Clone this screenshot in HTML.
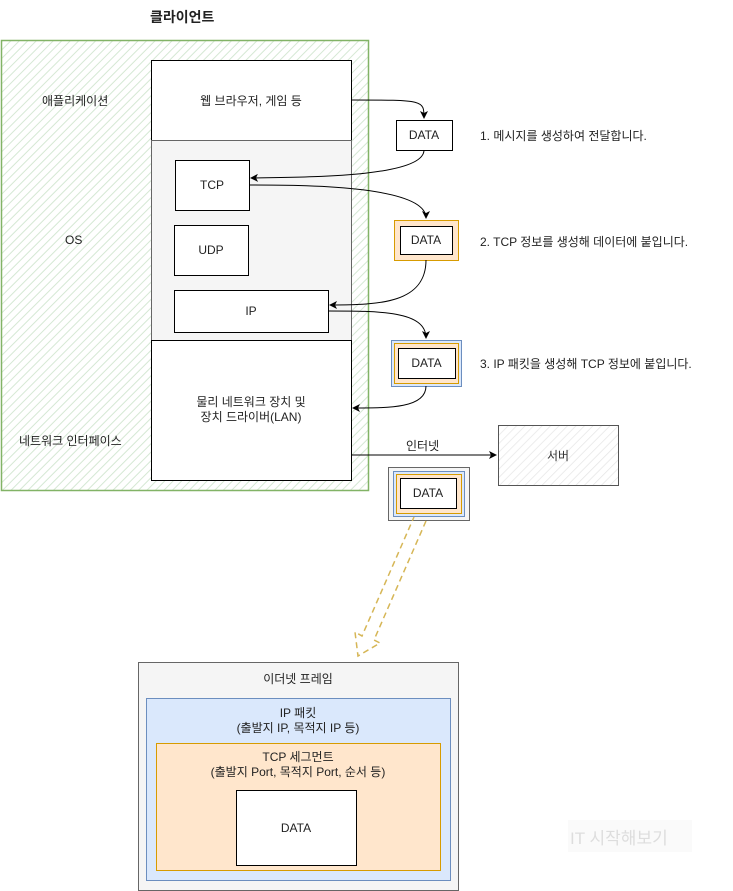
<!DOCTYPE html>
<html><head><meta charset="utf-8"><style>
body{margin:0;width:733px;height:891px;background:#fff;overflow:hidden;position:relative;font-family:"Liberation Sans","Noto Sans CJK KR",sans-serif;font-size:12px;color:#222}
.a{position:absolute;box-sizing:border-box;display:flex;align-items:center;justify-content:center;text-align:center}
.t{position:absolute;white-space:nowrap}
</style></head><body>
<svg width="733" height="891" style="position:absolute;left:0;top:0">
<defs>
<pattern id="h" width="6" height="6" patternUnits="userSpaceOnUse" patternTransform="rotate(45)"><rect width="6" height="6" fill="#fff"/><line x1="0" y1="0" x2="0" y2="6" stroke="#d5e8d4" stroke-width="2"/></pattern>
<pattern id="g" width="6" height="6" patternUnits="userSpaceOnUse" patternTransform="rotate(45)"><rect width="6" height="6" fill="#fff"/><line x1="0" y1="0" x2="0" y2="6" stroke="#e6e6e6" stroke-width="1.5"/></pattern>
<marker id="m" markerWidth="8" markerHeight="8" refX="7" refY="4" orient="auto" markerUnits="userSpaceOnUse"><path d="M0,0 L8,4 L0,8 L2,4z" fill="#000"/></marker>
</defs>
<rect x="1.5" y="40.5" width="367" height="450" fill="url(#h)" stroke="#82b366" stroke-width="1.5"/>
<rect x="151.5" y="60.5" width="200" height="80" fill="#fff" stroke="#000"/>
<rect x="151.5" y="140.5" width="200" height="200" fill="#f5f5f5" stroke="#666"/>
<rect x="151.5" y="340.5" width="200" height="140" fill="#fff" stroke="#000"/>
<rect x="175.5" y="160.5" width="74" height="50" fill="#fff" stroke="#000"/>
<rect x="174.5" y="225.5" width="74" height="50" fill="#fff" stroke="#000"/>
<rect x="174.5" y="290.5" width="154" height="42" fill="#fff" stroke="#000"/>
<rect x="396.5" y="120.5" width="56" height="30" fill="#fff" stroke="#000"/>
<rect x="394.5" y="220.5" width="64" height="40" fill="#ffe6cc" stroke="#d79b00"/>
<rect x="400.5" y="226.5" width="52" height="28" fill="#fff" stroke="#000"/>
<rect x="391.5" y="340.5" width="70" height="46" fill="#dae8fc" stroke="#6c8ebf"/>
<rect x="394.5" y="343.5" width="64" height="40" fill="#ffe6cc" stroke="#d79b00"/>
<rect x="398.5" y="348.5" width="57" height="30" fill="#fff" stroke="#000"/>
<rect x="388.5" y="467.5" width="81" height="53" fill="#f5f5f5" stroke="#666"/>
<rect x="393.5" y="471.5" width="71" height="45" fill="#dae8fc" stroke="#6c8ebf"/>
<rect x="396.5" y="474.5" width="65" height="39" fill="#ffe6cc" stroke="#d79b00"/>
<rect x="400.5" y="478.5" width="56" height="30" fill="#fff" stroke="#000"/>
<rect x="498.5" y="425.5" width="120" height="60" fill="url(#g)" stroke="#555"/>
<g fill="none" stroke="#000" stroke-width="1">
<path d="M351,100 C424,100 424,100 424,118" marker-end="url(#m)"/>
<path d="M424,150 C424,178 300,177 251,178" marker-end="url(#m)"/>
<path d="M249,185 C300,185 426,185 426,218" marker-end="url(#m)"/>
<path d="M426,260 C426,303 380,305 330,305" marker-end="url(#m)"/>
<path d="M328,311 C380,311 426,311 426,338" marker-end="url(#m)"/>
<path d="M426,386 C426,408 390,408 353,408" marker-end="url(#m)"/>
<path d="M351,455 L496,455" marker-end="url(#m)"/>
</g>
<g fill="none" stroke="#d6b656" stroke-width="1.5" stroke-dasharray="6,4">
<path d="M426,521 L374,640 L380,643 L358,656 L355,632 L362,636 L414,517"/>
</g>
<rect x="138.5" y="662.5" width="320" height="228" fill="#f5f5f5" stroke="#666"/>
<rect x="146.5" y="698.5" width="304" height="182" fill="#dae8fc" stroke="#6c8ebf"/>
<rect x="156.5" y="743.5" width="284" height="127" fill="#ffe6cc" stroke="#d79b00"/>
<rect x="236.5" y="790.5" width="120" height="75" fill="#fff" stroke="#000"/>
<rect x="568" y="820" width="124" height="32" fill="#fafafa"/>
</svg>
<div class="t" style="left:150px;top:7px;font-size:14px;font-weight:bold">클라이언트</div>
<div class="t" style="left:42px;top:92px">애플리케이션</div>
<div class="t" style="left:65px;top:233px">OS</div>
<div class="t" style="left:19px;top:432px">네트워크 인터페이스</div>
<div class="a" style="left:151px;top:60px;width:200px;height:80px">웹 브라우저, 게임 등</div>
<div class="a" style="left:175px;top:160px;width:74px;height:50px">TCP</div>
<div class="a" style="left:174px;top:225px;width:74px;height:50px">UDP</div>
<div class="a" style="left:174px;top:290px;width:154px;height:42px">IP</div>
<div class="a" style="left:151px;top:340px;width:200px;height:140px;line-height:15px">물리 네트워크 장치 및<br>장치 드라이버(LAN)</div>
<div class="a" style="left:396px;top:120px;width:56px;height:30px">DATA</div>
<div class="a" style="left:400px;top:226px;width:52px;height:28px">DATA</div>
<div class="a" style="left:398px;top:348px;width:57px;height:30px">DATA</div>
<div class="a" style="left:400px;top:478px;width:56px;height:30px">DATA</div>
<div class="t" style="left:480px;top:127px">1. 메시지를 생성하여 전달합니다.</div>
<div class="t" style="left:480px;top:233px">2. TCP 정보를 생성해 데이터에 붙입니다.</div>
<div class="t" style="left:480px;top:355px">3. IP 패킷을 생성해 TCP 정보에 붙입니다.</div>
<div class="t" style="left:406px;top:437px">인터넷</div>
<div class="a" style="left:498px;top:425px;width:120px;height:60px;color:#333">서버</div>
<div class="t" style="left:138px;top:670px;width:320px;text-align:center">이더넷 프레임</div>
<div class="t" style="left:146px;top:706px;width:304px;text-align:center;line-height:15px">IP 패킷<br>(출발지 IP, 목적지 IP 등)</div>
<div class="t" style="left:156px;top:750px;width:284px;text-align:center;line-height:15px">TCP 세그먼트<br>(출발지 Port, 목적지 Port, 순서 등)</div>
<div class="a" style="left:236px;top:790px;width:120px;height:75px">DATA</div>
<div class="t" style="left:570px;top:824px;font-size:17px;color:#ddd">IT 시작해보기</div>
</body></html>
